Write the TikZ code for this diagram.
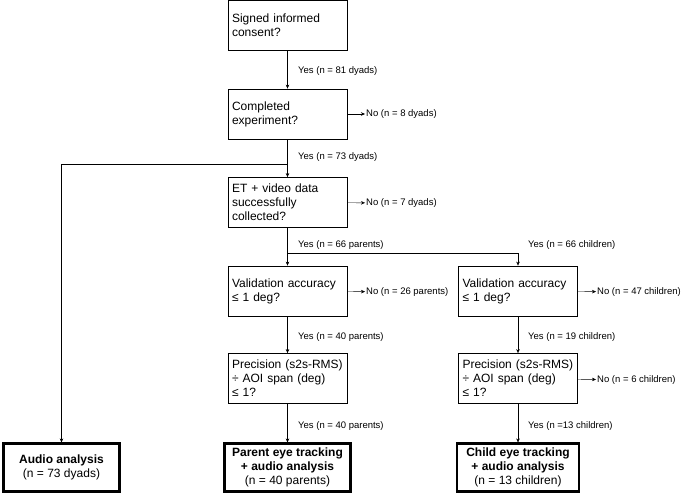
\documentclass[tikz,border=0pt]{standalone}
\usepackage{fontspec}
\setmainfont{Liberation Sans}
\usetikzlibrary{arrows.meta}

\begin{document}
\begin{tikzpicture}[x=1pt,y=-1pt,
	box/.style={draw,line width=0.8pt,minimum height=50pt,text width=111pt,inner xsep=4pt,align=left,font=\fontsize{12}{14}\selectfont},
	final/.style={draw,line width=2.2pt,minimum height=48pt,align=center,font=\fontsize{12}{14}\selectfont},
	lbl/.style={anchor=west,inner sep=1pt,font=\fontsize{9.5}{11}\selectfont},
	>={Stealth[length=4pt,width=3.5pt]}]
	\useasboundingbox (0,0) rectangle (685,494);
	\node[box] (0) at (287.5,25.5) {Signed informed\\consent?};
	\node[box] (1) at (287.5,114) {Completed\\experiment?};
	\node[box] (2) at (287.5,202.5) {ET + video data\\successfully\\collected?};
	\node[box] (3) at (287.5,291) {Validation accuracy\\≤ 1 deg?};
	\node[box] (4) at (518,291) {Validation accuracy\\≤ 1 deg?};
	\node[box] (5) at (287.5,378.5) {Precision (s2s-RMS)\\÷ AOI span (deg)\\≤ 1?};
	\node[box] (6) at (518,378.5) {Precision (s2s-RMS)\\÷ AOI span (deg)\\≤ 1?};
	\node[final,minimum width=116pt] (7) at (61.5,467.5) {\textbf{Audio analysis}\\(n = 73 dyads)};
	\node[final,minimum width=126pt] (8) at (287.5,467.5) {\textbf{Parent eye tracking}\\\textbf{+ audio analysis}\\(n = 40 parents)};
	\node[final,minimum width=122pt] (9) at (518,467.5) {\textbf{Child eye tracking}\\\textbf{+ audio analysis}\\(n = 13 children)};
	% yes labels
	\node[lbl] (10) at (297,71) {Yes (n = 81 dyads)};
	\node[lbl] (11) at (297,157) {Yes (n = 73 dyads)};
	\node[lbl] (12) at (297,245) {Yes (n = 66 parents)};
	\node[lbl] (13) at (527,245) {Yes (n = 66 children)};
	\node[lbl] (14) at (297,337) {Yes (n = 40 parents)};
	\node[lbl] (15) at (527,337) {Yes (n = 19 children)};
	\node[lbl] (16) at (297,426) {Yes (n = 40 parents)};
	\node[lbl] (17) at (527,426) {Yes (n =13 children)};
	% no labels
	\node[lbl] (20) at (365,114) {No (n = 8 dyads)};
	\node[lbl] (21) at (365,203) {No (n = 7 dyads)};
	\node[lbl] (22) at (365,292) {No (n = 26 parents)};
	\node[lbl] (23) at (596,292) {No (n = 47 children)};
	\node[lbl] (24) at (596,380) {No (n = 6 children)};
	\coordinate (30) at (287.5,164);
	\coordinate (31) at (287.5,253);
	\draw [->] (0) to (1);
	\draw [->] (1) to (20);
	\draw (1) to (30);
	\draw [->] (30) to (2);
	\draw [->] (30) -| (7);
	\draw [->] (2) to (21);
	\draw (2) to (31);
	\draw [->] (31) to (3);
	\draw [->] (31) -| (4);
	\draw [->] (3) to (22);
	\draw [->] (4) to (23);
	\draw [->] (3) to (5);
	\draw [->] (4) to (6);
	\draw [->] (6) to (24);
	\draw [->] (5) to (8);
	\draw [->] (6) to (9);
\end{tikzpicture}
\end{document}
